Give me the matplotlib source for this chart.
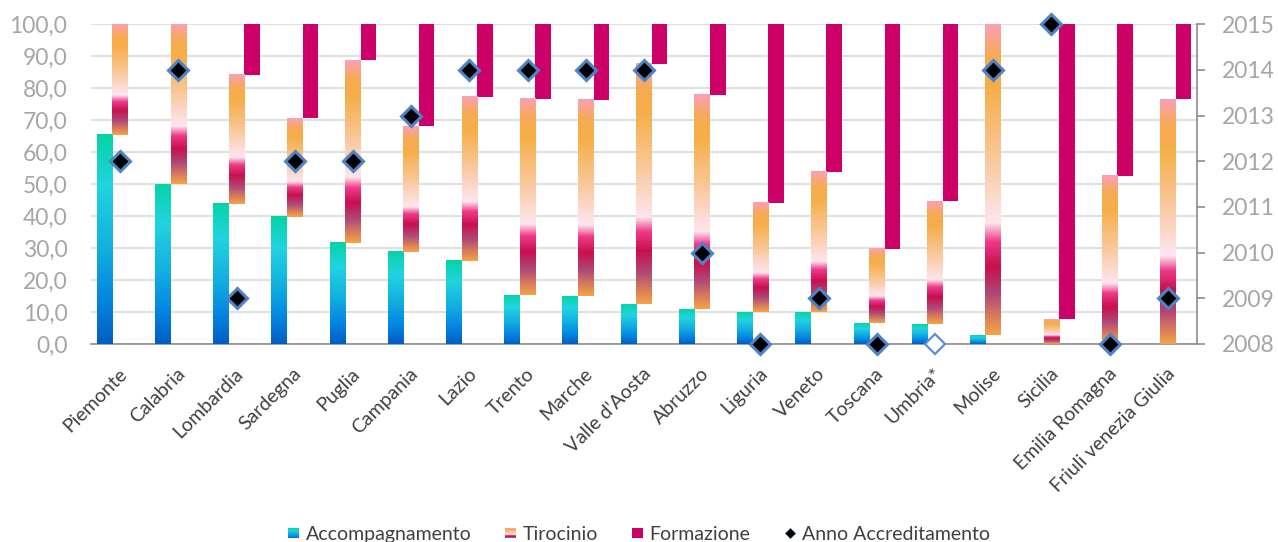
import numpy as np
import matplotlib
matplotlib.use("Agg")
import matplotlib.pyplot as plt
from matplotlib.colors import LinearSegmentedColormap
from matplotlib.patches import Rectangle
from matplotlib.legend_handler import HandlerBase
from matplotlib.lines import Line2D
import matplotlib.transforms as mtransforms

plt.rcParams['font.family'] = ['Lato', 'DejaVu Sans']

# ---------------- data ----------------
regions = ["Piemonte", "Calabria", "Lombardia", "Sardegna", "Puglia", "Campania",
           "Lazio", "Trento", "Marche", "Valle d'Aosta", "Abruzzo", "Liguria",
           "Veneto", "Toscana", "Umbria*", "Molise", "Sicilia", "Emilia Romagna",
           "Friuli venezia Giulia"]
accompagnamento = [65.4, 49.9, 43.8, 39.8, 31.7, 28.9, 26.1, 15.2, 14.9, 12.5,
                   10.9, 10.0, 10.0, 6.5, 6.2, 2.8, 0.0, 0.0, 0.0]
tirocinio = [34.6, 50.1, 40.4, 30.9, 57.0, 39.3, 51.3, 61.4, 61.4, 75.1,
             67.0, 34.2, 43.8, 23.3, 38.4, 97.2, 7.7, 52.6, 76.6]
formazione = [0.0, 0.0, 15.8, 29.3, 11.3, 31.8, 22.6, 23.4, 23.7, 12.4,
              22.1, 55.8, 46.2, 70.2, 55.4, 0.0, 92.3, 47.4, 23.4]
anno_accreditamento = [2012, 2014, 2009, 2012, 2012, 2013, 2014, 2014, 2014, 2014,
                       2010, 2008, 2009, 2008, 2008, 2014, 2015, 2008, 2009]
hollow_marker = ["Umbria*"]
y_ticks = [0, 10, 20, 30, 40, 50, 60, 70, 80, 90, 100]
year_ticks = [2008, 2009, 2010, 2011, 2012, 2013, 2014, 2015]

# ---------------- styles ----------------
acc_cmap = LinearSegmentedColormap.from_list("acc", [
    (0.0, "#005ec0"), (0.2, "#0384e2"), (0.45, "#12aee0"),
    (0.75, "#22d3e0"), (1.0, "#05d4a6")])
tir_cmap = LinearSegmentedColormap.from_list("tir", [
    (0.00, "#f4a446"), (0.06, "#d87a5c"), (0.13, "#b04878"),
    (0.22, "#c8104e"), (0.30, "#ee3a88"), (0.36, "#fde6ee"),
    (0.40, "#fde0e0"), (0.60, "#f9c48e"), (0.80, "#f6ae48"),
    (0.90, "#f7aa55"), (1.00, "#fba0b8")])
form_color = "#cc0066"
grid_color = "#d9d9d9"
tick_color = "#a6a6a6"
text_color = "#404040"

fig = plt.figure(figsize=(12.78, 5.42), dpi=100)
ax = fig.add_axes([91/1278, 1 - 344/542, (1197 - 91)/1278, (344 - 24.3)/542])

x = np.arange(len(regions))
w = 0.267
acc = np.array(accompagnamento)
tir = np.array(tirocinio)
frm = np.array(formazione)

bars_acc = ax.bar(x - w, acc, width=w, bottom=0, color="none", edgecolor="none", zorder=3)
bars_tir = ax.bar(x, tir, width=w, bottom=acc, color="none", edgecolor="none", zorder=3)
bars_frm = ax.bar(x + w, frm, width=w, bottom=acc + tir, color=form_color,
                  edgecolor="none", zorder=3)

grad = np.linspace(0, 1, 256).reshape(-1, 1)
for bars, cmap in ((bars_acc, acc_cmap), (bars_tir, tir_cmap)):
    for b in bars:
        h = b.get_height()
        if h <= 0:
            continue
        x0, y0 = b.get_x(), b.get_y()
        ax.imshow(grad, extent=[x0, x0 + b.get_width(), y0, y0 + h], origin="lower",
                  aspect="auto", cmap=cmap, zorder=3, interpolation="bilinear")

ax.set_xlim(-0.5, len(regions) - 0.5)
ax.set_ylim(0, 100)
ax.set_yticks(y_ticks)
ax.set_yticklabels([f"{v:.1f}".replace(".", ",") for v in y_ticks])
ax.yaxis.grid(True, color=grid_color, lw=1.2, zorder=0)
ax.set_axisbelow(True)
for s in ("left", "top", "right"):
    ax.spines[s].set_visible(False)
ax.spines["bottom"].set_color("#8c8c8c")
ax.spines["bottom"].set_linewidth(1.2)
ax.tick_params(axis="y", length=0, pad=17, labelsize=16.5, labelcolor=tick_color)
ax.tick_params(axis="x", length=0, pad=15, labelsize=14, labelcolor=text_color)
ax.set_xticks(x)
ax.set_xticklabels(regions, rotation=45, ha="right", va="top", rotation_mode="anchor")
offset = mtransforms.ScaledTranslation(-2/100, 0, fig.dpi_scale_trans)
for lab in ax.get_xticklabels():
    lab.set_transform(lab.get_transform() + offset)

ax2 = ax.twinx()
ax2.set_ylim(2008, 2015)
ax2.set_yticks(year_ticks)
for s in ("left", "top", "bottom"):
    ax2.spines[s].set_visible(False)
ax2.spines["right"].set_color("#8c8c8c")
ax2.spines["right"].set_linewidth(1.2)
ax2.tick_params(axis="y", length=6, width=1.2, color="#8c8c8c", pad=12,
                labelsize=16.5, labelcolor=tick_color)

years = np.array(anno_accreditamento, dtype=float)
for i, r in enumerate(regions):
    hollow = r in hollow_marker
    ax2.plot(x[i], years[i], marker="D", linestyle="none", markersize=10.5,
             markerfacecolor="white" if hollow else "black",
             markeredgecolor="#5b8fd0" if hollow else "#4f83c4",
             markeredgewidth=1.6 if hollow else 2.2, clip_on=False, zorder=5)


class GradHandler(HandlerBase):
    def __init__(self, cmap, **kw):
        super().__init__(**kw)
        self.cmap = cmap

    def create_artists(self, legend, orig_handle, xdescent, ydescent, width, height,
                       fontsize, trans):
        n = 12
        size = width
        x0 = -xdescent
        y0 = -ydescent + (height - size) / 2
        arts = []
        for k in range(n):
            c = self.cmap((k + 0.5) / n)
            arts.append(Rectangle((x0, y0 + k * size / n), size, size / n + 0.05,
                                  facecolor=c, edgecolor="none", transform=trans))
        return arts


class SquareHandler(HandlerBase):
    def create_artists(self, legend, orig_handle, xdescent, ydescent, width, height,
                       fontsize, trans):
        size = width
        x0 = -xdescent
        y0 = -ydescent + (height - size) / 2
        return [Rectangle((x0, y0), size, size, facecolor=form_color,
                          edgecolor="none", transform=trans)]


h_acc = Rectangle((0, 0), 1, 1)
h_tir = Rectangle((0, 0), 1, 1)
h_frm = Rectangle((0, 0), 1, 1)
h_anno = Line2D([], [], marker="D", color="black", markersize=5.5, linestyle="none",
                markeredgecolor="#1f3864", markeredgewidth=0.5)
leg = fig.legend([h_acc, h_tir, h_frm, h_anno],
                 ["Accompagnamento", "Tirocinio", "Formazione", "Anno Accreditamento"],
                 handler_map={h_acc: GradHandler(acc_cmap), h_tir: GradHandler(tir_cmap),
                              h_frm: SquareHandler()},
                 loc="center", bbox_to_anchor=(0.5, 0.014), ncol=4, frameon=False,
                 fontsize=14, handlelength=0.55, handletextpad=0.35, columnspacing=1.75,
                 labelcolor=text_color)

fig.savefig("out.png", dpi=100)
